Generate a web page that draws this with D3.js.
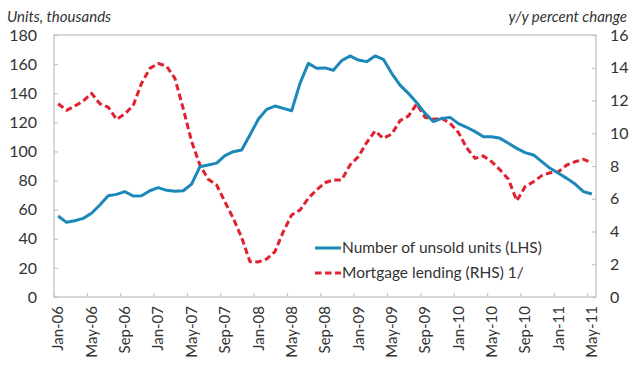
<!DOCTYPE html>
<html>
<head>
<meta charset="utf-8">
<script src="https://cdn.jsdelivr.net/npm/d3@7"></script>
<style>
  html, body { margin: 0; padding: 0; background: #fff; }
  svg { display: block; }
  text { font-family: Lato, "Open Sans", sans-serif; fill: #333; }
</style>
</head>
<body>
<svg id="chart" width="633" height="369"></svg>
<script>
// Monthly categories, Jan-06 through May-11
const months = d3.timeMonth.range(new Date(2006, 0, 1), new Date(2011, 5, 1));
const fmt = d3.timeFormat("%b-%y");
const categories = months.map(fmt);

// Number of unsold units, thousands (left axis)
const unsoldUnits = [
  55.6, 51.3, 52.4, 54.0, 57.5, 63.2, 69.6, 70.5, 72.4, 69.4, 69.6, 73.0, 75.1, 73.3, 72.6, 73.0,
  77.5, 89.5, 90.7, 92.0, 97.2, 99.8, 101.0, 111.3, 122.1, 128.9, 131.2, 129.6, 128.0, 146.8, 160.5, 157.1,
  157.4, 155.8, 162.4, 165.6, 162.8, 161.7, 165.6, 163.3, 153.7, 145.6, 139.9, 133.5, 126.2, 120.5, 122.7, 123.4,
  119.1, 116.6, 113.6, 110.1, 110.1, 109.0, 105.6, 102.1, 99.2, 97.6, 93.0, 88.4, 85.0, 81.5, 77.6, 72.4, 70.8
];

// Mortgage lending, y/y percent change (right axis)
const mortgageLending = [
  11.8, 11.4, 11.66, 11.97, 12.44, 11.8, 11.6, 10.85, 11.18, 11.7, 13.05, 13.96, 14.26, 14.1, 13.35, 11.5,
  9.5, 8.06, 7.19, 6.84, 5.82, 4.8, 3.64, 2.16, 2.14, 2.32, 2.77, 3.99, 5.01, 5.31, 6.03, 6.55,
  6.98, 7.15, 7.15, 8.06, 8.57, 9.43, 10.14, 9.69, 9.95, 10.77, 11.05, 11.79, 10.97, 10.85, 10.91, 10.61,
  10.05, 9.1, 8.47, 8.61, 8.26, 7.76, 7.19, 5.88, 6.74, 7.04, 7.41, 7.59, 7.65, 8.06, 8.26, 8.41, 8.2
];

const leftTicks = [0, 20, 40, 60, 80, 100, 120, 140, 160, 180];
const rightTicks = [0, 2, 4, 6, 8, 10, 12, 14, 16];
const xTickLabels = ["Jan-06", "May-06", "Sep-06", "Jan-07", "May-07", "Sep-07", "Jan-08", "May-08",
  "Sep-08", "Jan-09", "May-09", "Sep-09", "Jan-10", "May-10", "Sep-10", "Jan-11", "May-11"];

const seriesNames = ["Number of unsold units (LHS)", "Mortgage lending (RHS) 1/"];
const colors = { unsold: "#1b88b9", mortgage: "#e0212f" };

const plot = { left: 54, right: 596, top: 35, bottom: 297 };

const svg = d3.select("#chart");

const x = d3.scaleBand().domain(categories).range([plot.left, plot.right]).padding(0);
const yL = d3.scaleLinear().domain([0, 180]).range([plot.bottom, plot.top]);
const yR = d3.scaleLinear().domain([0, 16]).range([plot.bottom, plot.top]);
const cx = c => x(c) + x.bandwidth() / 2;

// Plot frame
svg.append("rect")
  .attr("x", plot.left).attr("y", plot.top)
  .attr("width", plot.right - plot.left).attr("height", plot.bottom - plot.top)
  .attr("fill", "none").attr("stroke", "#c4c4c4").attr("stroke-width", 1.3);

// Left axis
const gL = svg.append("g").attr("transform", `translate(${plot.left},0)`)
  .call(d3.axisLeft(yL).tickValues(leftTicks).tickSize(-4).tickPadding(17));
// Right axis
const gR = svg.append("g").attr("transform", `translate(${plot.right},0)`)
  .call(d3.axisRight(yR).tickValues(rightTicks).tickSize(-4).tickPadding(14));
[gL, gR].forEach(g => {
  g.select(".domain").remove();
  g.selectAll(".tick line").attr("stroke", "#c4c4c4").attr("stroke-width", 1.2);
  g.selectAll(".tick text").style("font-size", "16px").attr("fill", "#333");
});

// Category axis: ticks at band boundaries, labels at band centres
const gX = svg.append("g");
gX.selectAll("line").data(xTickLabels).join("line")
  .attr("x1", d => x(d)).attr("x2", d => x(d))
  .attr("y1", plot.bottom).attr("y2", plot.bottom - 4)
  .attr("stroke", "#c4c4c4").attr("stroke-width", 1.2);
gX.selectAll("text").data(xTickLabels).join("text")
  .attr("transform", d => `translate(${cx(d)},${plot.bottom + 9}) rotate(-90)`)
  .attr("text-anchor", "end").attr("dy", "0.35em")
  .style("font-size", "15px")
  .text(d => d);

// Series lines
const lineL = d3.line().x((d, i) => cx(categories[i])).y(d => yL(d));
const lineR = d3.line().x((d, i) => cx(categories[i])).y(d => yR(d));

svg.append("path").datum(mortgageLending)
  .attr("d", lineR).attr("fill", "none")
  .attr("stroke", colors.mortgage).attr("stroke-width", 3)
  .attr("stroke-dasharray", "6.5,3.5").attr("stroke-linejoin", "round");

svg.append("path").datum(unsoldUnits)
  .attr("d", lineL).attr("fill", "none")
  .attr("stroke", colors.unsold).attr("stroke-width", 3)
  .attr("stroke-linejoin", "round");

// Axis titles
svg.append("text").attr("x", 7).attr("y", 22)
  .style("font-size", "15px").style("font-style", "italic").text("Units, thousands");
svg.append("text").attr("x", 627).attr("y", 22).attr("text-anchor", "end")
  .style("font-size", "15px").style("font-style", "italic").text("y/y percent change");

// Legend
const legend = svg.append("g");
const legendItems = [
  { name: seriesNames[0], color: colors.unsold, dash: null, y: 248 },
  { name: seriesNames[1], color: colors.mortgage, dash: "6.5,3.5", y: 273 }
];
legendItems.forEach(item => {
  legend.append("line")
    .attr("x1", 315).attr("x2", 341).attr("y1", item.y).attr("y2", item.y)
    .attr("stroke", item.color).attr("stroke-width", 3)
    .attr("stroke-dasharray", item.dash);
  legend.append("text").attr("x", 342).attr("y", item.y).attr("dy", "0.35em")
    .style("font-size", "15.5px").text(item.name);
});
</script>
</body>
</html>
